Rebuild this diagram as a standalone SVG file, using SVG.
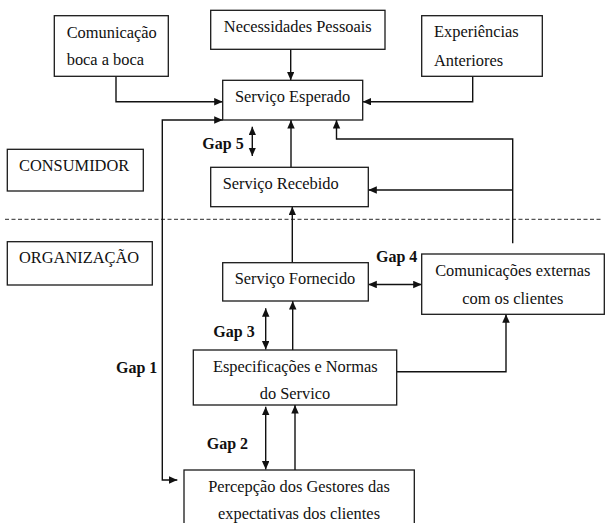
<svg xmlns="http://www.w3.org/2000/svg" width="609" height="523" viewBox="0 0 609 523">
<style>
.box{fill:#fff;stroke:#1a1a1a;stroke-width:1.3}
.t{font-family:"Liberation Serif","Times New Roman",serif;font-size:16.4px;fill:#111}
.c{text-anchor:middle}
.g{font-family:"Liberation Serif","Times New Roman",serif;font-size:16px;font-weight:bold;fill:#111}
.ln{fill:none;stroke:#111;stroke-width:1.4}
.a{marker-end:url(#ah)}
.d{marker-start:url(#ah);marker-end:url(#ah)}
</style>
<defs>
<marker id="ah" markerUnits="userSpaceOnUse" markerWidth="9" markerHeight="8" refX="8.5" refY="3.75" orient="auto-start-reverse">
<path d="M0,0 L8.5,3.75 L0,7.5 z" fill="#111"/>
</marker>
</defs>
<rect width="609" height="523" fill="#fff"/>
<line x1="5" y1="219.3" x2="602" y2="219.3" stroke="#555" stroke-width="1.2" stroke-dasharray="4,2.5"/>
<g id="connectors">
<path class="ln a" d="M116,76.3 V101.7 H222.7"/>
<path class="ln a" d="M290.7,49.3 V80.3"/>
<path class="ln a" d="M472.7,76.3 V101.7 H362.7"/>
<path class="ln d" d="M177.3,480 H162.3 V120 H222.7"/>
<path class="ln d" d="M252.3,126.7 V156"/>
<path class="ln a" d="M291,167.3 V120"/>
<path class="ln a" d="M512.7,243.3 V139 H336.5 V120"/>
<path class="ln a" d="M512.7,190 H368.3"/>
<path class="ln a" d="M292.3,262.7 V206.7"/>
<path class="ln d" d="M368.3,284.5 H421.7"/>
<path class="ln d" d="M265.7,308.3 V349.5"/>
<path class="ln a" d="M292.7,350 V301"/>
<path class="ln a" d="M396.7,371.7 H506 V314.3"/>
<path class="ln d" d="M265.7,406.7 V469.5"/>
<path class="ln a" d="M295,470 V405"/>
</g>
<g id="comunicacao">
<rect class="box" x="54.3" y="15.7" width="114" height="60.6"/>
<text class="t" x="66.7" y="37.5">Comunicação</text>
<text class="t" x="66.7" y="65.3">boca a boca</text>
</g>
<g id="necessidades">
<rect class="box" x="210.7" y="10.3" width="174.3" height="39"/>
<text class="t c" x="297.8" y="31.7">Necessidades Pessoais</text>
</g>
<g id="experiencias">
<rect class="box" x="421.7" y="15.7" width="120.6" height="60.6"/>
<text class="t" x="434" y="37.3">Experiências</text>
<text class="t" x="434" y="65.7">Anteriores</text>
</g>
<g id="esperado">
<rect class="box" x="222.7" y="80.3" width="140" height="39.7"/>
<text class="t c" x="292.5" y="101.7">Serviço Esperado</text>
</g>
<g id="gap5"><text class="g" x="202.3" y="149">Gap 5</text></g>
<g id="consumidor">
<rect class="box" x="7.3" y="149.3" width="136" height="41.7"/>
<text class="t" x="19" y="171">CONSUMIDOR</text>
</g>
<g id="recebido">
<rect class="box" x="210.7" y="167.3" width="157.6" height="39.4"/>
<text class="t" x="222.7" y="188.7">Serviço Recebido</text>
</g>
<g id="organizacao">
<rect class="box" x="7.3" y="241.7" width="145" height="43.3"/>
<text class="t" x="19" y="262.7">ORGANIZAÇÃO</text>
</g>
<g id="gap4"><text class="g" x="376" y="261.7">Gap 4</text></g>
<g id="fornecido">
<rect class="box" x="222.7" y="262.7" width="145.6" height="38.3"/>
<text class="t c" x="295" y="284">Serviço Fornecido</text>
</g>
<g id="comext">
<rect class="box" x="421.7" y="254" width="182.6" height="60.3"/>
<text class="t c" x="512.8" y="276">Comunicações externas</text>
<text class="t c" x="512.8" y="304.3">com os clientes</text>
</g>
<g id="gap3"><text class="g" x="213.3" y="336.7">Gap 3</text></g>
<g id="gap1"><text class="g" x="116" y="373.3">Gap 1</text></g>
<g id="especificacoes">
<rect class="box" x="193.3" y="350" width="203.4" height="55"/>
<text class="t c" x="295.3" y="371.7">Especificações e Normas</text>
<text class="t c" x="295" y="399">do Servico</text>
</g>
<g id="gap2"><text class="g" x="206.7" y="449">Gap 2</text></g>
<g id="percepcao">
<rect class="box" x="184" y="470" width="230.3" height="62"/>
<text class="t c" x="299" y="491.7">Percepção dos Gestores das</text>
<text class="t c" x="299" y="519.3">expectativas dos clientes</text>
</g>
</svg>
